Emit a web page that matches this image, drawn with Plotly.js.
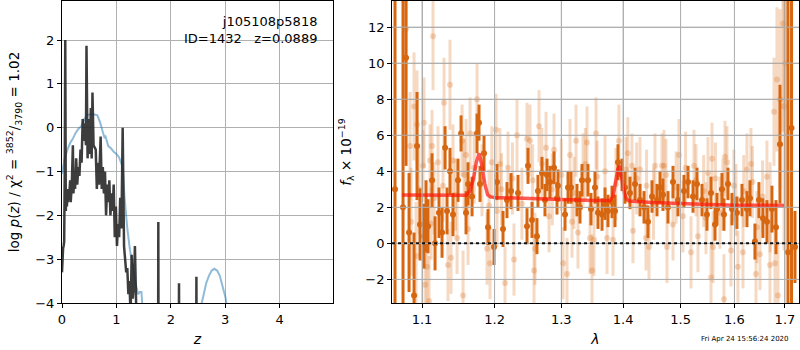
<!DOCTYPE html>
<html><head><meta charset="utf-8">
<script src="https://cdn.plot.ly/plotly-3.0.1.min.js"></script>
<style>html,body{margin:0;padding:0;background:#fff}#plot{width:800px;height:350px}</style>
</head><body><div id="plot"></div>
<script>
// ---- left panel: p(z) ----
const zBlack = [0.00,0.01,0.02,0.03,0.04,0.05,0.06,0.07,0.08,0.09,0.10,0.11,0.12,0.13,0.15,0.16,0.18,0.20,0.21,0.23,0.24,0.26,0.28,0.30,0.32,0.34,0.36,0.38,0.40,0.42,0.44,0.45,0.47,0.49,0.51,0.53,0.545,0.56,0.58,0.62,0.64,0.66,0.68,0.71,0.73,0.75,0.77,0.79,0.81,0.83,0.85,0.87,0.89,0.91,0.93,0.95,0.97,0.99,1.01,1.03,1.05,1.07,1.09,1.10,1.115,1.14,1.16,1.18,1.20,1.22,1.24,1.26,1.28,1.30,1.32,1.34,1.36,1.38,1.40,1.765,1.77,1.775,2.145,2.15,2.155,2.465,2.47,2.475];
const pBlack = [-3.3,-2.9,-2.75,-2.7,-2.6,-1.0,2.0,-1.9,-1.4,-1.8,-1.5,-1.7,-1.4,-1.6,-1.2,-1.7,-1.3,-0.4,-1.5,-1.0,-1.4,-0.7,-1.3,-0.9,-1.1,-0.5,-0.8,0.2,-0.3,0.1,-0.4,1.87,-0.7,0.2,-0.6,0.45,-0.7,0.8,-0.4,-0.5,-1.4,-0.8,-1.3,-0.2,-1.4,-0.9,-1.5,-1.0,-2.0,-1.3,-1.7,-1.2,-2.0,-1.5,-1.9,-1.3,-2.5,-1.8,-2.7,-2.2,-2.5,-1.6,-2.3,-1.5,0.0,-2.7,-3.0,-3.3,-3.2,-3.8,-3.5,-4.3,-2.9,-3.9,-3.6,-2.7,-3.9,-4.5,-6,-6,-2.15,-6,-6,-3.55,-6,-6,-3.4,-6];
const zBlue = [0,0.05,0.1,0.15,0.2,0.25,0.3,0.35,0.4,0.45,0.5,0.55,0.6,0.65,0.7,0.75,0.78,0.8,0.85,0.9,0.95,1.0,1.05,1.1,1.12,1.15,1.2,1.25,1.3,1.35,1.4,1.43,1.46,1.49,null,2.55,2.6,2.65,2.7,2.75,2.8,2.85,2.9,2.95,3.0,3.05];
const pBlue = [-1.05,-0.7,-0.5,-0.35,-0.25,-0.12,-0.03,0.03,0.15,0.28,0.3,0.3,0.3,0.28,0.12,-0.1,-0.22,-0.2,-0.42,-0.47,-0.55,-0.6,-0.68,-0.85,-1.0,-1.6,-2.3,-2.8,-3.2,-3.55,-3.8,-3.75,-3.75,-4.3,null,-4.1,-3.8,-3.55,-3.38,-3.26,-3.22,-3.26,-3.38,-3.6,-3.85,-4.2];
const zTicks = [0,1,2,3,4];
const pTicks = [-4,-3,-2,-1,0,1,2];
const pTickText = ['\u22124','\u22123','\u22122','\u22121','0','1','2'];

// ---- right panel: spectrum ----
const lamDark = [1.0649,1.0752,1.0791,1.0830,1.0895,1.0934,1.0973,1.1026,1.1053,1.1079,1.1133,1.1173,1.1226,1.1267,1.1308,1.1335,1.1375,1.1416,1.1485,1.1527,1.1596,1.1624,1.1680,1.1750,1.1778,1.1792,1.1849,1.1906,1.1992,1.2035,1.2122,1.2180,1.2239,1.2342,1.2476,1.2491,1.2551,1.2626,1.2641,1.2702,1.2748,1.2779,1.2825,1.2887,1.2933,1.2949,1.3058,1.3105,1.3152,1.3247,1.3295,1.3327,1.3423,1.3471,1.3536,1.3585,1.3651,1.3700,1.3749,1.3815,1.3865,1.3915,1.3982,1.4032,1.4116,1.4202,1.4287,1.4356,1.4424,1.4494,1.4581,1.4634,1.4686,1.4775,1.4864,1.4953,1.5061,1.5134,1.5225,1.5298,1.5390,1.5482,1.5557,1.5632,1.5669,1.5763,1.5801,1.5877,1.5953,1.6049,1.6146,1.6243,1.6301,1.6399,1.6478,1.6557,1.6637,1.6737,1.6818,1.6899,1.7062,1.7135,1.7206];
const fDark = [3,2,10.3,0.6,-2.9,5.4,1.05,0.4,1.5,0.95,3.5,0.0,1.7,0.6,5.3,1.8,4.0,1.6,3.5,6.1,1.7,3.3,2.6,6.1,6.7,3.3,5.0,0.9,-0.2,3.4,0.8,2.4,2.9,2.8,0.95,4.3,1.3,0.4,2.9,3.9,2.4,3.8,3.4,4.2,2.5,3.2,1.6,3.1,3.1,2.4,2.0,3.5,3.5,1.9,3.1,1.7,1.6,2.2,1.8,2.3,1.8,4.5,3.8,3.1,2.8,3.3,2.4,2.0,1.2,2.6,2.4,3.1,2.7,2.0,3.4,2.4,2.9,3.4,2.6,3.3,2.4,1.6,2.8,1.05,1.9,3.0,1.6,3.3,1.9,1.7,2.4,1.9,2.5,0.1,2.4,1.4,1.2,1.9,0.9,5.5,-0.5,6.4,-0.2];
const eDark = [30,30,6,3.3,3.5,3.0,2.0,1.8,2.0,1.5,1.5,1.5,1.4,1.4,1.2,1.3,1.3,1.2,1.2,1.0,1.2,1.2,1.1,1.1,1.0,1.0,1.0,1.0,1.0,1.0,1.0,1.0,1.0,1.0,1.0,1.0,1.0,1.0,0.9,0.9,0.9,0.9,0.9,0.9,0.9,0.9,0.9,0.9,0.9,0.9,0.9,0.9,0.9,0.9,0.9,0.9,0.9,0.9,0.9,0.9,0.9,1.0,0.9,0.9,0.9,0.9,0.9,0.9,0.9,0.9,0.9,0.9,0.9,0.9,0.9,0.9,0.9,0.9,0.9,0.9,0.9,0.9,0.9,0.9,0.9,0.9,0.9,0.9,0.9,0.9,0.9,1.0,1.0,1.0,1.0,1.1,1.2,1.3,1.5,3.3,30,30,2];

const lamLight = [1.0791,1.1146,1.1375,1.1294,1.0895,1.1026,1.0934,1.0843,1.1133,1.1750,1.1652,1.1541,1.1213,1.1013,1.1106,1.1416,1.1596,1.2021,1.2078,1.2327,1.2476,1.2195,1.1921,1.2035,1.0856,1.1120,1.1472,1.1624,1.0921,1.1066,1.1348,1.1389,1.1040,1.1093,1.1555,1.1935,1.2151,1.2283,1.1892,1.2657,1.2521,1.3232,1.3553,1.3407,1.2764,1.2887,1.3931,1.3136,1.3343,1.2810,1.3168,1.3263,1.3455,1.3520,1.3733,1.3832,1.2596,1.2581,1.3027,1.3089,1.3488,1.4167,1.4442,1.4390,1.4150,1.4287,1.4546,1.4669,1.4049,1.4971,1.5576,1.5820,1.5858,1.6320,1.4704,1.5243,1.5501,1.6243,1.6637,1.6838,1.6778,1.6899,1.6960,1.7021,1.5188,1.5316,1.5595,1.5934,1.6068,1.6165,1.6419,1.6498,1.6697,1.6798,1.5557,1.5801,1.6858,1.4757,1.4864,1.5043,1.5464,1.5725,1.6030,1.6438,1.0960,1.1160,1.1280,1.1450,1.1570,1.1710,1.1820,1.1960,1.2100,1.2260,1.2400,1.2560,1.2700,1.2860,1.3000,1.3200,1.3380,1.3570,1.3700,1.3880,1.4080,1.4230,1.4400,1.4520,1.4740,1.4920,1.5090,1.5280,1.5420,1.5640,1.5780,1.5990,1.6180,1.6350,1.6550,1.6700,1.6981];
const fLight = [11.9,11.5,8.8,7.8,7.6,6.7,6.6,5.4,5.4,8.0,6.1,5.7,4.5,4.3,4.6,4.6,4.9,6.3,4.4,6.0,5.8,4.2,2.1,1.8,1.2,1.1,0.3,0.8,-0.7,-1.3,-1.2,-0.8,-2.3,-3.2,-2.9,-1.1,-2.2,-0.9,-0.3,6.5,5.7,5.7,6.1,5.6,5.3,5.2,5.7,4.9,4.1,1.5,1.2,0.6,0.3,0.2,0.3,0.2,-0.3,-1.5,-1.1,-1.7,-1.5,0.7,-0.2,0.3,4.3,4.1,4.3,4.3,4.1,4.9,4.7,4.8,4.5,4.4,4.3,4.3,3.9,4.1,3.7,9.1,7.3,8.0,12.2,10.0,-0.5,0.4,-0.2,-0.4,-1.3,-0.5,-1.7,-0.6,-1.2,-1.1,-1.9,-3.1,-2.9,-0.2,1.05,1.5,1.4,1.7,2.4,0.9,3.0,2.5,3.2,2.7,3.8,4.2,3.5,4.5,3.0,3.6,2.2,3.5,4.4,3.0,3.8,2.8,4.4,3.7,4.0,3.3,5.0,3.6,3.2,2.2,3.8,3.1,4.2,3.5,2.9,3.6,2.7,3.2,2.9,3.4,2.6,2.0,7.6];
const eLight = [4,3,2.5,2.5,3,2.5,3,3,2,2,2,2,2,2,2,2,2,2,2,2,2,2,2,2,3,2,2,2,3,2.5,2,2,2.5,2.5,2.5,2,2,2,2,2,2,2,2,2,2,2,2,2,2,2,2,2,2,2,2,2,2,2,2,2,2,1.8,1.8,1.8,1.8,1.8,1.8,1.8,1.8,2,2,2,2,2,2,2,2,2,2,4,3,5,6,8,2,2,2,2,2,2,2,2,2.5,3,2,2.5,3,2,2,2,2,2,2,2,2.5,2,2,2,2,2,2,2,2,2,2,2,2,2,2,2,2,2,2,2,2,2,2,2,2,2,2,2,2,2,2,2,2,2,2,2.5,8];

const lamModel = [1.074,1.100,1.130,1.150,1.160,1.165,1.170,1.174,1.178,1.182,1.186,1.190,1.194,1.200,1.250,1.300,1.350,1.378,1.383,1.387,1.391,1.394,1.398,1.402,1.406,1.410,1.450,1.500,1.550,1.600,1.650,1.698];
const fModel = [2.68,2.68,2.67,2.66,2.67,2.9,3.6,4.5,5.0,4.3,3.3,2.7,2.58,2.55,2.48,2.42,2.38,2.38,2.6,3.3,4.1,4.3,3.6,2.8,2.45,2.35,2.27,2.2,2.15,2.12,2.1,2.1];

const lamTicks = [1.1,1.2,1.3,1.4,1.5,1.6,1.7];
const lamTickText = ['1.1','1.2','1.3','1.4','1.5','1.6','1.7'];
const fTicks = [-2,0,2,4,6,8,10,12];
const fTickText = ['\u22122','0','2','4','6','8','10','12'];

const DARK = 'rgb(214,102,16)';
const LIGHT = 'rgba(214,102,16,0.25)';
const GRID = '#b0b0b0';
const FONT = 'DejaVu Sans, sans-serif';

const traces = [
  {x: zBlue, y: pBlue, xaxis:'x', yaxis:'y', mode:'lines', line:{color:'rgba(31,119,180,0.5)', width:2}, connectgaps:false, hoverinfo:'skip'},
  {x: zBlack, y: pBlack, xaxis:'x', yaxis:'y', mode:'lines', line:{color:'rgba(40,40,40,0.9)', width:2.5}, hoverinfo:'skip'},
  {x: lamLight, y: fLight, xaxis:'x2', yaxis:'y2', mode:'markers', marker:{color:LIGHT, size:6},
   error_y:{type:'data', array:eLight, visible:true, color:LIGHT, thickness:3, width:0}, hoverinfo:'skip'},
  {x: lamDark, y: fDark, xaxis:'x2', yaxis:'y2', mode:'markers', marker:{color:DARK, size:6},
   error_y:{type:'data', array:eDark, visible:true, color:DARK, thickness:3, width:0}, hoverinfo:'skip'},
  {x: lamModel, y: fModel, xaxis:'x2', yaxis:'y2', mode:'lines', line:{color:'rgba(255,20,10,0.7)', width:3.5}, hoverinfo:'skip'}
];

const shapes = [];
lamTicks.forEach(v => shapes.push({type:'line', xref:'x2', yref:'y2 domain', x0:v, x1:v, y0:0, y1:1, line:{color:GRID, width:1}, layer:'above'}));
fTicks.forEach(v => shapes.push({type:'line', xref:'x2 domain', yref:'y2', x0:0, x1:1, y0:v, y1:v, line:{color:GRID, width:1}, layer:'above'}));
shapes.push({type:'line', xref:'x2 domain', yref:'y2', x0:0, x1:1, y0:0, y1:0, line:{color:'#111', width:2, dash:'dot'}, layer:'above'});

const axBase = {showline:true, mirror:true, linecolor:'#000', linewidth:1, ticks:'outside', ticklen:4, tickcolor:'#000',
  showgrid:true, gridcolor:GRID, gridwidth:1, zeroline:false, tickfont:{family:FONT, size:13, color:'#000'}, fixedrange:true};

const layout = {
  width:800, height:350, margin:{l:62, r:1, t:1, b:47},
  paper_bgcolor:'#fff', plot_bgcolor:'#fff', showlegend:false,
  font:{family:FONT, size:13, color:'#000'},
  xaxis: Object.assign({}, axBase, {domain:[0,0.3677], range:[0,4.98], tickmode:'array', tickvals:zTicks, anchor:'y',
    title:{text:'<i>z</i>', font:{family:FONT, size:14}, standoff:8}}),
  yaxis: Object.assign({}, axBase, {range:[-4,2.89], tickmode:'array', tickvals:pTicks, ticktext:pTickText, anchor:'x',
    title:{text:'log <i>p</i>(<i>z</i>) / χ<sup>2</sup> = <sup>3852</sup>/<sub>3790</sub> = 1.02', font:{family:FONT, size:13.5}, standoff:12}}),
  xaxis2: Object.assign({}, axBase, {domain:[0.4478,1], type:'log', range:[Math.log10(1.0611), Math.log10(1.7289)], tickmode:'array', tickvals:lamTicks, ticktext:lamTickText, anchor:'y2',
    title:{text:'<i>λ</i>', font:{family:FONT, size:14}, standoff:8}}),
  yaxis2: Object.assign({}, axBase, {range:[-3.31,13.45], tickmode:'array', tickvals:fTicks, ticktext:fTickText, anchor:'x2',
    title:{text:'<i>f</i><sub>λ</sub> × 10<sup>−19</sup>', font:{family:FONT, size:13.5}, standoff:10}}),
  shapes: shapes,
  annotations:[
    {xref:'x domain', yref:'y domain', x:0.948, y:0.965, xanchor:'right', yanchor:'top', align:'right', showarrow:false,
     text:'j105108p5818<br>ID=1432\u00a0\u00a0\u00a0z=0.0889', font:{family:FONT, size:13, color:'#000'}},
    {xref:'paper', yref:'paper', x:0.927, y:-0.12, xanchor:'center', yanchor:'middle', showarrow:false,
     text:'Fri Apr 24 15:56:24 2020', font:{family:FONT, size:7, color:'#000'}}
  ]
};

Plotly.newPlot('plot', traces, layout, {staticPlot:true, displayModeBar:false});
</script>
</body></html>
